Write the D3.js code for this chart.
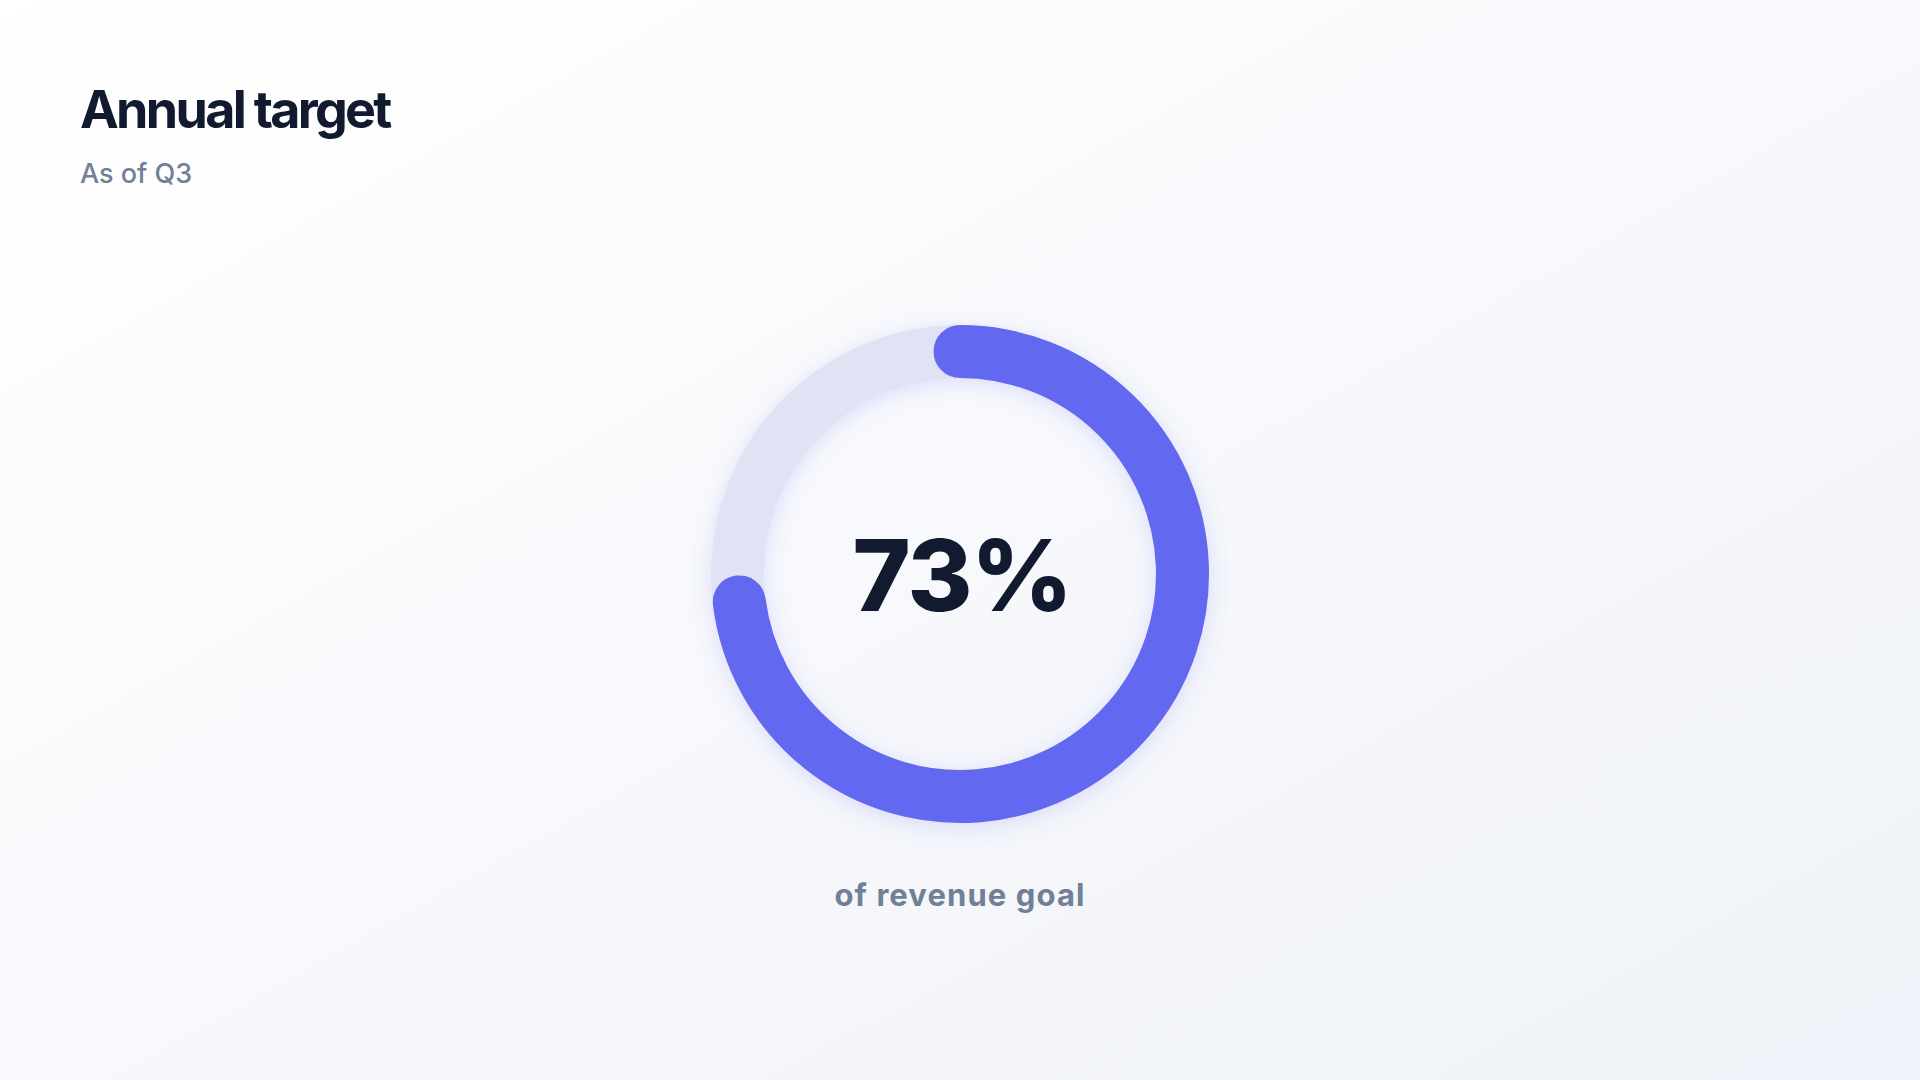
<!DOCTYPE html>
<html>
<head>
<meta charset="utf-8">
<script src="https://cdn.jsdelivr.net/npm/d3@7"></script>
<style>
    html, body { margin: 0; padding: 0; }
    body { width: 1920px; height: 1080px; overflow: hidden; font-family: Inter, "Noto Sans", sans-serif; }
</style>
</head>
<body>
<div id="chart"></div>
<script>
// chart data
const titles = ["Annual target", "As of Q3"];
const metricNames = ["of revenue goal"];
const metricValues = [73];
const metricGoals = [100];

const width = 1920, height = 1080;
const cx = 960, cy = 574;
const ringRadius = 222.5, ringWidth = 53;

let svg = d3.select("#chart").append("svg")
    .attr("width", width).attr("height", height)
    .attr("viewBox", [0, 0, width, height]);

let defs = svg.append("defs");
let bg = defs.append("linearGradient").attr("id", "bg")
    .attr("x1", "0%").attr("y1", "0%").attr("x2", "100%").attr("y2", "100%");
bg.append("stop").attr("offset", "0%").attr("stop-color", "#ffffff");
bg.append("stop").attr("offset", "100%").attr("stop-color", "#eff2f8");

let glow = defs.append("filter").attr("id", "glow")
    .attr("x", "-30%").attr("y", "-30%").attr("width", "160%").attr("height", "160%");
glow.append("feDropShadow").attr("dx", 0).attr("dy", 4).attr("stdDeviation", 11)
    .attr("flood-color", "#6366f1").attr("flood-opacity", 0.2);

svg.append("rect").attr("width", width).attr("height", height).attr("fill", "url(#bg)");

// title block
svg.append("text").attr("x", 80).attr("y", 128)
    .attr("font-size", "52px").attr("font-weight", 700).attr("letter-spacing", "-2.7px")
    .style("fill", "#111a2e").text(titles[0]);
svg.append("text").attr("x", 80).attr("y", 183)
    .attr("font-size", "27px").attr("font-weight", 500)
    .style("fill", "#718096").text(titles[1]);

// angle for a value out of the goal, 0 at twelve o'clock
let angle = d3.scaleLinear().domain([0, metricGoals[0]]).range([0, 2 * Math.PI]);

function arcLine(a0, a1) {
    let p = d3.path();
    p.arc(0, 0, ringRadius, a0 - Math.PI / 2, a1 - Math.PI / 2);
    return p.toString();
}

let ring = svg.append("g").attr("transform", `translate(${cx},${cy})`).attr("filter", "url(#glow)");

ring.append("circle").attr("r", ringRadius)
    .attr("fill", "none").attr("stroke", "#e1e3f4").attr("stroke-width", ringWidth);

ring.selectAll("path.progress").data(metricValues).join("path")
    .attr("class", "progress")
    .attr("d", d => arcLine(angle(0), angle(d)))
    .attr("fill", "none").attr("stroke", "#6467f1")
    .attr("stroke-width", ringWidth).attr("stroke-linecap", "round");

// centre value and caption
svg.append("text").attr("x", cx + 2).attr("y", 611).attr("text-anchor", "middle")
    .attr("font-size", "99px").attr("font-weight", 800).attr("letter-spacing", "-1.5px")
    .style("fill", "#111a2e").text(metricValues[0] + "%");
svg.append("text").attr("x", cx).attr("y", 906).attr("text-anchor", "middle")
    .attr("font-size", "31px").attr("font-weight", 700).attr("letter-spacing", "1.1px")
    .style("fill", "#718096").text(metricNames[0]);
</script>
</body>
</html>
